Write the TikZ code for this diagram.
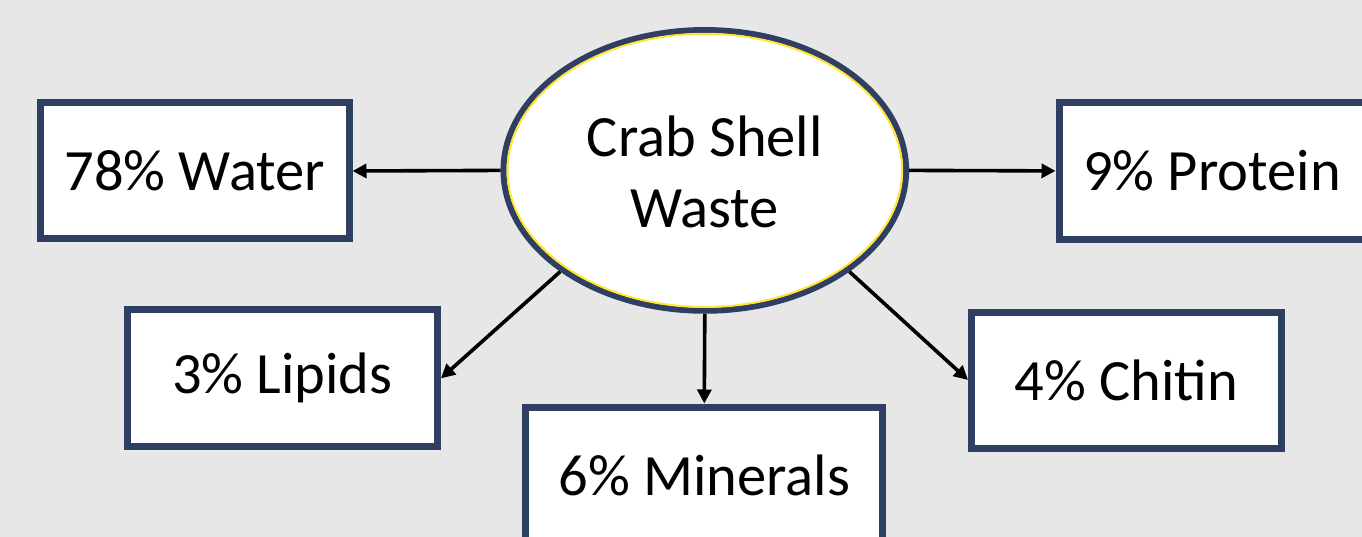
\documentclass[tikz,border=0pt]{standalone}
\usepackage{fontspec}
\setmainfont{Carlito}
\usetikzlibrary{shapes.geometric,arrows.meta}
\definecolor{bg}{RGB}{231,231,231}
\definecolor{navy}{RGB}{47,62,99}
\definecolor{ylw}{RGB}{255,228,50}
\tikzset{
  box/.style={draw=navy, line width=7pt, fill=white, rectangle, inner sep=0pt,
    font=\fontsize{58.5}{70}\selectfont},
  conn/.style={line width=3.6pt, -{Triangle[length=14pt,width=14pt]}}
}
\begin{document}
\begin{tikzpicture}[x=1pt,y=-1pt]
\useasboundingbox (0,0) rectangle (1362,537);
\fill[bg] (0,0) rectangle (1362,537);
\node[draw=navy, line width=6pt, fill=white, ellipse, inner sep=0pt,
  minimum width=402.6pt, minimum height=280.7pt] (e) at (704.8,170.4) {};
\draw[ylw, line width=2pt] (e.center) ellipse [x radius=197.3, y radius=136.6];
\node[align=center, font=\fontsize{58.5}{71}\selectfont] (et) at (704.8,171.5) {Crab Shell\\Waste};
\node[box, minimum width=308.5pt, minimum height=136pt] (wat) at (194.75,171) {78\% Water};
\node[box, minimum width=306pt, minimum height=136.3pt] (pro) at (1212,170.9) {9\% Protein};
\node[box, minimum width=310.5pt, minimum height=137.3pt] (lip) at (282.25,378.3) {3\% Lipids};
\node[box, minimum width=309.8pt, minimum height=136pt] (chi) at (1126.4,380) {4\% Chitin};
\node[box, minimum width=356.7pt, minimum height=136pt] (min) at (704.3,475) {6\% Minerals};
\draw[conn] (e.west) -- (wat.east);
\draw[conn] (e.east) -- (pro.west);
\draw[conn] (e.215) -- (lip.east);
\draw[conn] (e.325) -- (chi.west);
\draw[conn] (e.south) -- (min.north);
\end{tikzpicture}
\end{document}
